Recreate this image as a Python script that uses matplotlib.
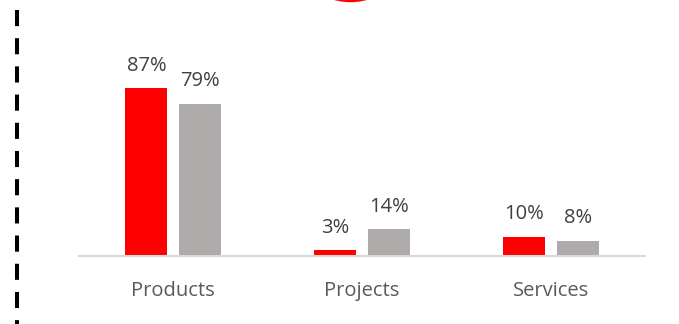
import matplotlib
matplotlib.use("Agg")
import matplotlib.pyplot as plt
from matplotlib.lines import Line2D
from matplotlib.patches import Ellipse
import matplotlib.transforms as mtransforms
import numpy as np

categories = ["Products", "Projects", "Services"]
series_red = [87, 3, 10]
series_gray = [79, 14, 8]
labels_red = ["87%", "3%", "10%"]
labels_gray = ["79%", "14%", "8%"]

W, H = 679, 324
fig = plt.figure(figsize=(W / 100, H / 100), dpi=100)
ax = fig.add_axes([79 / W, (H - 256) / H, (645 - 79) / W, 193 / H])

x = np.arange(len(categories))
bw = 0.223
off = 0.143
ax.bar(x - off, series_red, bw, color="#ff0000")
ax.bar(x + off, series_gray, bw, color="#afabab")

ax.set_xlim(-0.5, 2.5)
ax.set_ylim(0, 100)
for s in ax.spines.values():
    s.set_visible(False)
ax.axhline(0, color="#d9d9d9", lw=1.5, clip_on=False)
ax.set_xticks([])
ax.set_yticks([])

font = "Open Sans"
for xi, v, lab in zip(x - off, series_red, labels_red):
    ax.annotate(lab, (xi, v), xytext=(0, 12.5), textcoords="offset points",
                ha="center", va="baseline", fontsize=14.5, color="#404040", family=font)
for xi, v, lab in zip(x + off, series_gray, labels_gray):
    ax.annotate(lab, (xi, v), xytext=(0, 12.5), textcoords="offset points",
                ha="center", va="baseline", fontsize=14.5, color="#404040", family=font)

trans = mtransforms.blended_transform_factory(ax.transData, fig.transFigure)
for xi, c in zip(x, categories):
    ax.text(xi, (H - 296) / H, c, transform=trans, ha="center", va="baseline",
            fontsize=14.5, color="#595959", family=font)

# dashed vertical rule at left
fig.add_artist(Line2D([17 / W, 17 / W], [1 - 10 / H, 0], color="black", lw=2.9,
                      dashes=(4, 3), solid_capstyle="butt", dash_capstyle="butt"))

# red shape cut by the top edge
R = 62
fig.add_artist(Ellipse((350.5 / W, 1 + (R - 2.2) / H), 2 * R / W, 2 * R / H,
                       color="#ff0000", lw=0))

fig.savefig("out.png", dpi=100)
